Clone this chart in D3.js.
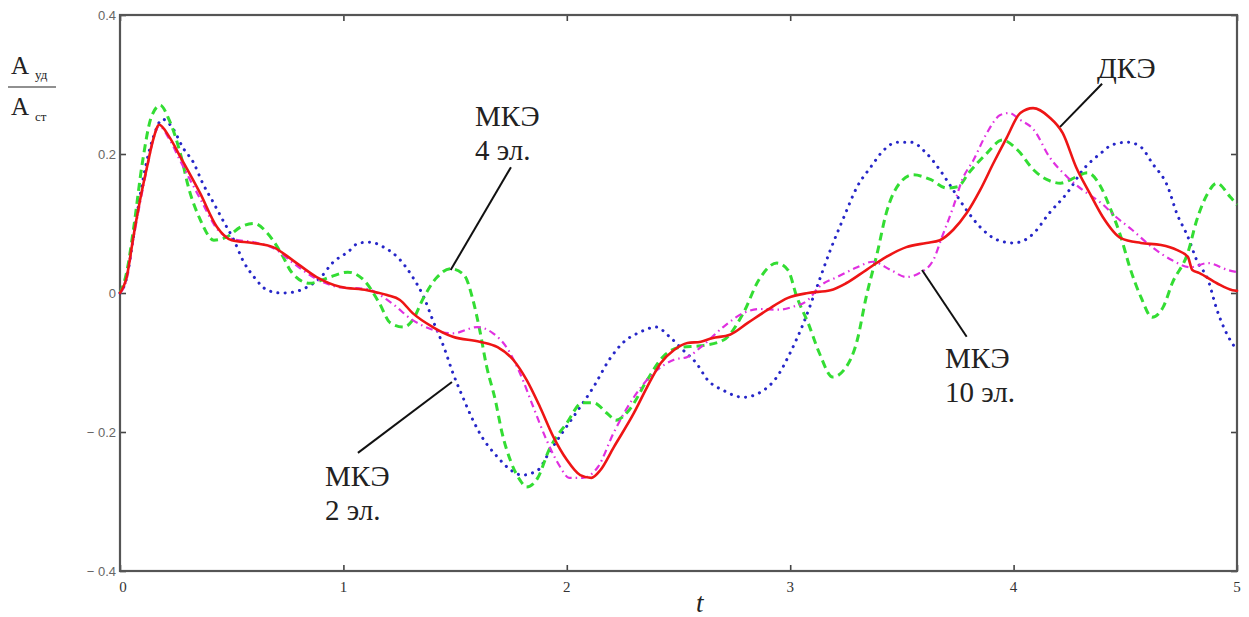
<!DOCTYPE html>
<html><head><meta charset="utf-8">
<script src="https://cdn.jsdelivr.net/npm/d3@7"></script>
<style>
html,body{margin:0;padding:0;background:#fff;}
#wrap{position:relative;width:1249px;height:617px;}
svg{display:block;position:absolute;left:0;top:0;}
.lbl{position:absolute;white-space:pre;color:#222;}
.xt{width:40px;text-align:center;color:#333;}
</style></head>
<body>
<div id="wrap"><svg id="chart" width="1249" height="617"></svg>
<div class="lbl" style="font-family:'Liberation Serif';font-size:29px;left:475px;top:98.7px;line-height:34px">МКЭ<br>4 эл.</div>
<div class="lbl" style="font-family:'Liberation Serif';font-size:29px;left:325px;top:458.7px;line-height:34px">МКЭ<br>2 эл.</div>
<div class="lbl" style="font-family:'Liberation Serif';font-size:29px;left:1097px;top:50.7px;line-height:34px">ДКЭ</div>
<div class="lbl" style="font-family:'Liberation Serif';font-size:29px;left:945px;top:340.7px;line-height:34px">МКЭ<br>10 эл.</div>
<div class="lbl xt" style="font-family:'Liberation Serif';font-size:15px;left:103px;top:577.9px;line-height:18px">0</div>
<div class="lbl xt" style="font-family:'Liberation Serif';font-size:15px;left:323.4px;top:577.9px;line-height:18px">1</div>
<div class="lbl xt" style="font-family:'Liberation Serif';font-size:15px;left:546.8px;top:577.9px;line-height:18px">2</div>
<div class="lbl xt" style="font-family:'Liberation Serif';font-size:15px;left:770.2px;top:577.9px;line-height:18px">3</div>
<div class="lbl xt" style="font-family:'Liberation Serif';font-size:15px;left:993.6px;top:577.9px;line-height:18px">4</div>
<div class="lbl xt" style="font-family:'Liberation Serif';font-size:15px;left:1217px;top:577.9px;line-height:18px">5</div>
<div class="lbl" style="font-family:'Liberation Serif';font-style:italic;font-size:27px;left:696px;top:586.9px;line-height:32px">t</div>
<div class="lbl" style="font-family:'Liberation Serif';font-size:25px;left:11px;top:50.6px;line-height:30px">A</div>
<div class="lbl" style="font-family:'Liberation Serif';font-size:13px;left:35px;top:66.6px;line-height:16px">уд</div>
<div class="lbl" style="font-family:'Liberation Serif';font-size:25px;left:11px;top:91.6px;line-height:30px">A</div>
<div class="lbl" style="font-family:'Liberation Serif';font-size:13px;left:35px;top:108.6px;line-height:16px">ст</div>
</div>
<script>
// ДКЭ (red solid)
const dkeData = [[0,0],[0.03,0.023],[0.06,0.081],[0.09,0.134],[0.12,0.18],[0.148,0.22],[0.175,0.242],[0.22,0.225],[0.27,0.196],[0.358,0.144],[0.434,0.095],[0.50,0.076],[0.595,0.072],[0.685,0.066],[0.774,0.047],[0.88,0.023],[0.985,0.009],[1.106,0.004],[1.195,-0.003],[1.253,-0.010],[1.31,-0.029],[1.40,-0.049],[1.49,-0.063],[1.61,-0.070],[1.69,-0.078],[1.76,-0.096],[1.82,-0.125],[1.88,-0.164],[1.94,-0.207],[2.00,-0.240],[2.06,-0.262],[2.11,-0.266],[2.15,-0.255],[2.21,-0.222],[2.30,-0.173],[2.36,-0.135],[2.42,-0.101],[2.48,-0.082],[2.54,-0.072],[2.60,-0.070],[2.65,-0.065],[2.73,-0.060],[2.81,-0.043],[2.90,-0.024],[2.99,-0.007],[3.08,0.0],[3.18,0.004],[3.25,0.014],[3.34,0.033],[3.43,0.052],[3.52,0.066],[3.61,0.072],[3.67,0.076],[3.73,0.091],[3.79,0.115],[3.85,0.148],[3.91,0.187],[3.97,0.224],[4.03,0.259],[4.087,0.266],[4.16,0.253],[4.22,0.230],[4.28,0.181],[4.34,0.144],[4.40,0.109],[4.48,0.079],[4.57,0.072],[4.66,0.069],[4.73,0.062],[4.78,0.052],[4.80,0.033],[4.83,0.029],[4.91,0.014],[4.98,0.004],[5.0,0.003]];
// МКЭ 10 эл. (magenta dash-dot)
const mke10Data = [[0,0],[0.03,0.02],[0.06,0.078],[0.09,0.13],[0.12,0.178],[0.15,0.222],[0.175,0.24],[0.22,0.222],[0.27,0.19],[0.36,0.135],[0.44,0.09],[0.50,0.078],[0.60,0.073],[0.69,0.064],[0.78,0.042],[0.88,0.02],[0.99,0.008],[1.10,0.006],[1.21,-0.013],[1.31,-0.039],[1.40,-0.053],[1.49,-0.058],[1.60,-0.049],[1.67,-0.058],[1.73,-0.078],[1.79,-0.115],[1.85,-0.164],[1.91,-0.212],[1.97,-0.250],[2.01,-0.266],[2.07,-0.266],[2.14,-0.250],[2.21,-0.201],[2.30,-0.150],[2.39,-0.115],[2.48,-0.096],[2.54,-0.092],[2.60,-0.078],[2.70,-0.049],[2.79,-0.029],[2.86,-0.023],[2.95,-0.024],[3.01,-0.020],[3.08,-0.010],[3.13,0.009],[3.21,0.023],[3.30,0.037],[3.37,0.045],[3.45,0.033],[3.52,0.023],[3.58,0.029],[3.64,0.047],[3.68,0.081],[3.73,0.124],[3.77,0.163],[3.82,0.191],[3.88,0.230],[3.94,0.256],[3.98,0.259],[4.03,0.249],[4.09,0.235],[4.16,0.196],[4.24,0.167],[4.31,0.148],[4.39,0.130],[4.46,0.109],[4.53,0.091],[4.62,0.066],[4.71,0.047],[4.79,0.037],[4.87,0.043],[4.96,0.033],[5.0,0.03]];
// МКЭ 4 эл. (green dashed)
const mke4Data = [[0,0],[0.03,0.03],[0.06,0.091],[0.10,0.187],[0.14,0.253],[0.18,0.27],[0.22,0.249],[0.27,0.201],[0.31,0.148],[0.36,0.105],[0.42,0.076],[0.48,0.081],[0.54,0.095],[0.60,0.10],[0.66,0.086],[0.72,0.058],[0.77,0.029],[0.85,0.014],[0.94,0.023],[1.02,0.030],[1.09,0.019],[1.16,-0.014],[1.21,-0.043],[1.27,-0.049],[1.31,-0.039],[1.36,-0.006],[1.42,0.023],[1.48,0.035],[1.54,0.026],[1.58,-0.01],[1.61,-0.053],[1.64,-0.104],[1.68,-0.154],[1.71,-0.201],[1.75,-0.243],[1.79,-0.269],[1.82,-0.279],[1.87,-0.266],[1.92,-0.226],[2.00,-0.187],[2.07,-0.158],[2.12,-0.158],[2.18,-0.173],[2.22,-0.183],[2.28,-0.168],[2.36,-0.125],[2.43,-0.092],[2.51,-0.078],[2.60,-0.076],[2.70,-0.068],[2.79,-0.029],[2.86,0.019],[2.94,0.043],[2.99,0.033],[3.03,-0.006],[3.08,-0.043],[3.13,-0.086],[3.19,-0.121],[3.24,-0.111],[3.30,-0.068],[3.34,-0.006],[3.39,0.058],[3.43,0.115],[3.49,0.158],[3.55,0.170],[3.63,0.163],[3.70,0.151],[3.75,0.153],[3.80,0.173],[3.88,0.201],[3.95,0.220],[4.02,0.205],[4.09,0.177],[4.15,0.163],[4.21,0.158],[4.28,0.167],[4.33,0.173],[4.39,0.153],[4.43,0.124],[4.48,0.081],[4.52,0.037],[4.57,-0.006],[4.62,-0.035],[4.67,-0.020],[4.71,0.014],[4.78,0.058],[4.82,0.105],[4.87,0.144],[4.91,0.158],[4.97,0.138],[5.0,0.127]];
// МКЭ 2 эл. (blue dotted)
const mke2Data = [[0,0],[0.03,0.022],[0.06,0.08],[0.09,0.14],[0.12,0.19],[0.15,0.225],[0.19,0.25],[0.24,0.235],[0.28,0.21],[0.33,0.187],[0.37,0.158],[0.42,0.129],[0.46,0.105],[0.51,0.076],[0.55,0.047],[0.60,0.023],[0.66,0.004],[0.72,0.0],[0.77,0.001],[0.84,0.009],[0.90,0.023],[0.95,0.043],[1.02,0.059],[1.07,0.072],[1.12,0.073],[1.18,0.066],[1.25,0.049],[1.31,0.023],[1.36,-0.006],[1.40,-0.039],[1.45,-0.078],[1.49,-0.115],[1.54,-0.154],[1.58,-0.183],[1.62,-0.207],[1.69,-0.236],[1.75,-0.255],[1.80,-0.262],[1.87,-0.255],[1.92,-0.230],[1.98,-0.201],[2.06,-0.164],[2.12,-0.135],[2.19,-0.096],[2.25,-0.072],[2.33,-0.056],[2.40,-0.049],[2.46,-0.063],[2.52,-0.082],[2.58,-0.101],[2.63,-0.125],[2.70,-0.140],[2.79,-0.150],[2.86,-0.144],[2.94,-0.121],[3.00,-0.086],[3.06,-0.043],[3.12,0.009],[3.18,0.062],[3.24,0.109],[3.30,0.153],[3.36,0.181],[3.42,0.206],[3.48,0.217],[3.54,0.217],[3.61,0.201],[3.67,0.177],[3.73,0.148],[3.79,0.119],[3.85,0.095],[3.93,0.076],[4.00,0.072],[4.06,0.078],[4.09,0.086],[4.16,0.115],[4.24,0.144],[4.31,0.177],[4.39,0.201],[4.44,0.213],[4.51,0.217],[4.57,0.210],[4.62,0.187],[4.69,0.153],[4.73,0.115],[4.78,0.081],[4.82,0.047],[4.87,0.019],[4.91,-0.024],[4.97,-0.068],[5.0,-0.082]];

const xTicks = [0,1,2,3,4,5];
const yTicks = [-0.4,-0.2,0,0.2,0.4];
const xTickLabels = ["0","1","2","3","4","5"]; // shown as static text under the axis
const yTickLabels = ["\u2212 0.4","\u2212 0.2","0","0.2","0.4"];

// leader lines in data units [t, value]
const leaders = [
  {from:[1.75,0.181], to:[1.48,0.033]},
  {from:[1.065,-0.23], to:[1.486,-0.128]},
  {from:[4.396,0.301], to:[4.208,0.239]},
  {from:[3.79,-0.063], to:[3.59,0.033]}
];

const svg = d3.select("#chart");
const L = 120, R = 1237, T = 15, B = 571;
const x = d3.scaleLinear().domain([0,5]).range([L,R]);
const y = d3.scaleLinear().domain([-0.4,0.4]).range([B,T]);

const gB = svg.append("g").attr("transform",`translate(0,${B})`)
  .call(d3.axisBottom(x).tickValues(xTicks).tickSize(-6).tickFormat(""));
const gT = svg.append("g").attr("transform",`translate(0,${T})`)
  .call(d3.axisTop(x).tickValues(xTicks).tickSize(-6).tickFormat(""));
const gL = svg.append("g").attr("transform",`translate(${L},0)`)
  .call(d3.axisLeft(y).tickValues(yTicks).tickSize(-6).tickPadding(4).tickFormat((d,i)=>yTickLabels[i]));
const gR = svg.append("g").attr("transform",`translate(${R},0)`)
  .call(d3.axisRight(y).tickValues(yTicks).tickSize(-6).tickFormat(""));
[gB,gT,gL,gR].forEach(g=>{
  g.select(".domain").remove();
  g.selectAll(".tick line").attr("stroke","#444").attr("stroke-width",1.6);
});
gL.attr("font-family","Liberation Sans").attr("font-size",13);
gL.selectAll(".tick text").attr("fill","#666");

svg.append("rect").attr("x",L).attr("y",T).attr("width",R-L).attr("height",B-T)
  .attr("fill","none").attr("stroke","#555").attr("stroke-width",2.2);

const line = d3.line().x(d=>x(d[0])).y(d=>y(d[1])).curve(d3.curveMonotoneX);
const series = [
  {data:mke2Data, color:"#2626c8", width:3, dash:"0.1 7.2", cap:"round"},
  {data:mke4Data, color:"#33dd33", width:3, dash:"8 5", cap:"butt"},
  {data:mke10Data, color:"#e030e0", width:2.2, dash:"7 4 1.5 4", cap:"butt"},
  {data:dkeData, color:"#ee1515", width:2.6, dash:null, cap:"round"}
];
series.forEach(s=>{
  svg.append("path").datum(s.data).attr("d",line)
    .attr("fill","none").attr("stroke",s.color).attr("stroke-width",s.width)
    .attr("stroke-dasharray",s.dash).attr("stroke-linecap",s.cap).attr("stroke-linejoin","round");
});

leaders.forEach(a=>{
  svg.append("line").attr("x1",x(a.from[0])).attr("y1",y(a.from[1]))
    .attr("x2",x(a.to[0])).attr("y2",y(a.to[1])).attr("stroke","#111").attr("stroke-width",2);
});

// fraction bar of the y-axis title
svg.append("line").attr("x1",8).attr("x2",56).attr("y1",87).attr("y2",87).attr("stroke","#222").attr("stroke-width",1.2);
</script>
</body></html>
